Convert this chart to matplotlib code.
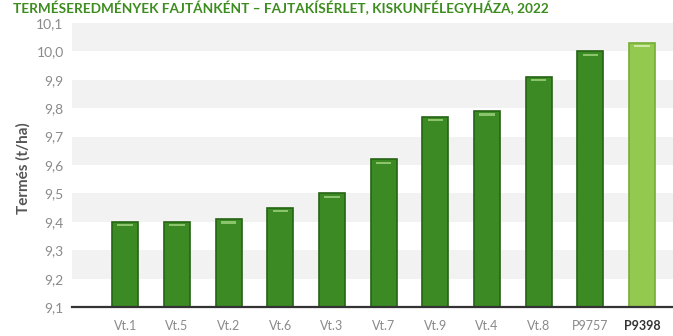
import matplotlib
matplotlib.use("Agg")
import matplotlib.pyplot as plt
import numpy as np

categories = ["Vt.1", "Vt.5", "Vt.2", "Vt.6", "Vt.3", "Vt.7", "Vt.9", "Vt.4", "Vt.8", "P9757", "P9398"]
values = [9.40, 9.40, 9.41, 9.45, 9.50, 9.62, 9.77, 9.79, 9.91, 10.00, 10.03]
yticks = [9.1, 9.2, 9.3, 9.4, 9.5, 9.6, 9.7, 9.8, 9.9, 10.0, 10.1]
title = "TERMÉSEREDMÉNYEK FAJTÁNKÉNT – FAJTAKÍSÉRLET, KISKUNFÉLEGYHÁZA, 2022"
ylabel = "Termés (t/ha)"

plt.rcParams['font.family'] = ['Lato', 'DejaVu Sans']

fig = plt.figure(figsize=(6.73, 3.36), dpi=100)
ax = fig.add_axes([0.107, 0.086, 0.893, 0.846])

ymin, ymax = 9.1, 10.1
ax.set_ylim(ymin, ymax)
x = np.arange(len(categories))
ax.set_xlim(-1.03, 10.6)

# alternating bands
for lo in [9.2, 9.4, 9.6, 9.8, 10.0]:
    ax.axhspan(lo, lo + 0.1, color='#f2f2f2', zorder=0, lw=0)

face = ['#3b8a24'] * (len(categories) - 1) + ['#93c94f']
edge = ['#266414'] * (len(categories) - 1) + ['#76ad36']
hl = ['#8cc46e'] * (len(categories) - 1) + ['#cde8a8']
w = 0.5
heights = [v - ymin for v in values]
ax.bar(x, heights, bottom=ymin, width=w, color=face, edgecolor=edge, linewidth=1.2, zorder=2)
# top highlight
ax.bar(x, [0.008] * len(values), bottom=[v - 0.016 for v in values], width=w * 0.6,
       color=hl, linewidth=0, zorder=4)

ax.set_yticks(yticks)
ax.set_yticklabels([f"{t:.1f}".replace('.', ',') for t in yticks], color='#8a8a8a', fontsize=10)
ax.set_xticks(x)
ax.set_xticklabels(categories, color='#8a8a8a', fontsize=9)
lbls = ax.get_xticklabels()
lbls[-1].set_fontweight('bold')
lbls[-1].set_color('#333333')
ax.tick_params(axis='x', length=0, pad=9)
ax.tick_params(axis='y', length=0, pad=6)

for s in ['top', 'right', 'left']:
    ax.spines[s].set_visible(False)
ax.spines['bottom'].set_color('#333333')
ax.spines['bottom'].set_linewidth(1.6)
ax.spines['bottom'].set_zorder(5)

fig.text(0.034, 0.5, ylabel, rotation=90, va='center', ha='center',
         fontsize=11, fontweight='bold', color='#555555')
fig.text(0.02, 0.998, title, ha='left', va='top', fontsize=9.8,
         fontweight='bold', color='#3d8c1f')

fig.savefig("out.png", dpi=100)
